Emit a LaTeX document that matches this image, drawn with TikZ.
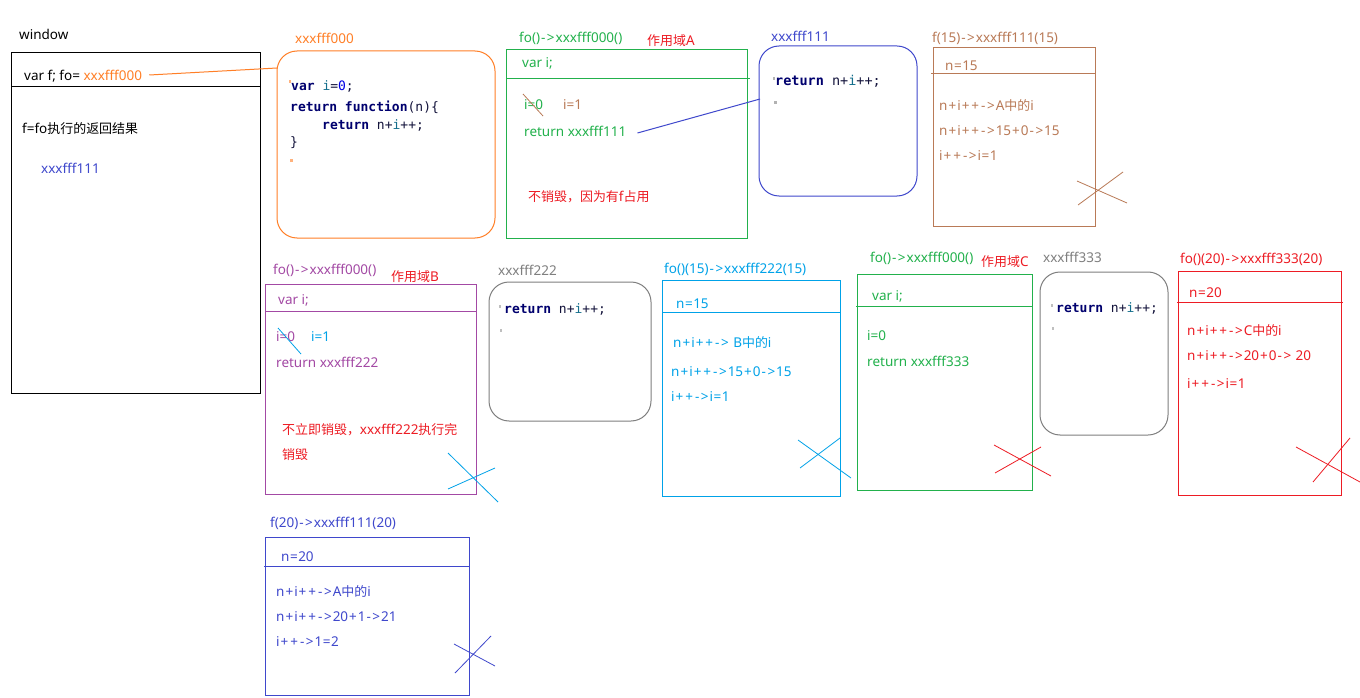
\documentclass[tikz,border=0pt]{standalone}
\usepackage{fontspec}
\setmainfont{Noto Sans}
\newfontfamily\cjk[Scale=0.96]{Noto Sans CJK SC}
\newfontfamily\codefont{DejaVu Sans Mono}
\usetikzlibrary{calc}

% MS Paint palette
\definecolor{porange}{RGB}{255,127,39}
\definecolor{pgreen}{RGB}{34,177,76}
\definecolor{pred}{RGB}{237,28,36}
\definecolor{pindigo}{RGB}{63,72,204}
\definecolor{pbrown}{RGB}{185,122,87}
\definecolor{ppurple}{RGB}{163,73,164}
\definecolor{pcyan}{RGB}{0,162,232}
\definecolor{pgray}{RGB}{127,127,127}
% code colouring
\definecolor{codekw}{RGB}{0,0,110}
\definecolor{codeid}{RGB}{20,110,140}
\definecolor{codenum}{RGB}{0,0,230}
\definecolor{codetx}{RGB}{20,20,60}

\newcommand{\kw}[1]{\textcolor{codekw}{\textbf{#1}}}
\newcommand{\idv}[1]{\textcolor{codeid}{#1}}
% loosely spaced operators for the trace lines
\newcommand{\pl}{\kern1pt+\kern1pt}
\newcommand{\ar}{\kern1pt-\kern1.5pt>\kern1pt}
\newcommand{\eq}{\kern0.5pt=\kern0.5pt}

\begin{document}
\begin{tikzpicture}[x=1pt,y=-1pt,
  lbl/.style={anchor=west,inner sep=0pt,font=\fontsize{13.5}{16}\selectfont},
  frame/.style={draw=#1,line width=1pt,anchor=north west,inner sep=0pt,outer sep=0pt},
  rframe/.style={frame=#1,rounded corners=20pt},
  divider/.style={draw=#1,line width=1pt},
  cross/.style={draw=#1,line width=0.8pt},
  code/.style={anchor=west,inner sep=0pt,text=codetx,font=\codefont\fontsize{13}{15}\selectfont},
  mark/.style={fill=#1}]
\useasboundingbox[fill=white] (0,0) rectangle (1360,698);

% ---- global scope: window ----
\node[lbl] (winlbl) at (19,34) {window};
\node[frame=black,minimum width=249pt,minimum height=340pt] (win) at (11,53) {};
\draw[divider=black] (11,87) -- (261,87);
\node[lbl] (tfo) at (24,76) {var f; fo= \textcolor{porange}{xxxfff000}};
\node[lbl] (tf) at (22,129) {f=fo{\cjk 执行的返回结果}};
\node[lbl,text=pindigo] (tf111) at (41,168) {xxxfff111};

% ---- function object xxxfff000 ----
\node[lbl,text=porange] (l000) at (295,38) {xxxfff000};
\node[rframe=porange,minimum width=218pt,minimum height=187pt] (r000) at (277,51) {};
\node[code] (c000a) at (291,86) {\kw{var} \idv{i}=\textcolor{codenum}{0};};
\node[code] (c000b) at (290,107) {\kw{return} \kw{function}(n)\{};
\node[code] (c000c) at (322,125) {\kw{return} n+\idv{i}++;};
\node[code] (c000d) at (290,143) {\}};
\fill[mark=porange!60] (289,80) rectangle (291,83);
\fill[mark=porange!60] (290,159) rectangle (293,162);
\coordinate (in000) at (277,68);
\draw[porange,line width=1pt] ($(tfo.east)+(7,-1)$) -- (in000);

% ---- scope A ----
\node[lbl,text=pgreen] (lA) at (519,38) {fo()\ar xxxfff000()};
\node[lbl,text=pred] (nA) at (647,41) {{\cjk 作用域}A};
\node[frame=pgreen,minimum width=241pt,minimum height=188pt] (bA) at (506,50) {};
\draw[divider=pgreen] (506,79) -- (750,79);
\node[lbl,text=pgreen] (vA) at (522,63) {var i;};
\node[lbl,text=pgreen] (iA0) at (524,105) {i=0};
\draw[pbrown,line width=0.8pt] (523,94) -- (543,116);
\node[lbl,text=pbrown] (iA1) at (563,105) {i=1};
\node[lbl,text=pgreen] (rA) at (524,131) {return xxxfff111};
\node[lbl,text=pred] (kA) at (528,197) {{\cjk 不销毁，因为有}f{\cjk 占用}};

% ---- function object xxxfff111 ----
\node[lbl,text=pindigo] (l111) at (771,36) {xxxfff111};
\node[rframe=pindigo,minimum width=158pt,minimum height=150pt] (r111) at (759,46) {};
\node[code,font=\codefont\fontsize{13.5}{15}\selectfont] (c111) at (775,81) {\kw{return} n+\idv{i}++;};
\fill[mark=pgray!60] (773,77) rectangle (775,80);
\fill[mark=pgray!60] (774,101) rectangle (777,104);
\coordinate (in111) at (760,99);
\draw[pindigo,line width=1pt] ($(rA.east)+(11,2)$) -- (in111);

% ---- call f(15) ----
\node[lbl,text=pbrown] (l15) at (932,38) {f(15)\ar xxxfff111(15)};
\node[frame=pbrown,minimum width=162pt,minimum height=178pt] (b15) at (933,48) {};
\draw[divider=pbrown] (931,74) -- (1095,74);
\node[lbl,text=pbrown] (n15) at (945,66) {n\eq 15};
\node[lbl,text=pbrown] (s15a) at (939,106) {n\pl i\pl\pl\ar A{\cjk 中的}i};
\node[lbl,text=pbrown] (s15b) at (939,131) {n\pl i\pl\pl\ar 15\pl 0\ar 15};
\node[lbl,text=pbrown] (s15c) at (939,156) {i\pl\pl\ar i\eq 1};
\draw[cross=pbrown] (1077,181) -- (1127,203);
\draw[cross=pbrown] (1078,205) -- (1123,172);

% ---- scope B ----
\node[lbl,text=ppurple] (lB) at (273,270) {fo()\ar xxxfff000()};
\node[lbl,text=pred] (nB) at (391,277) {{\cjk 作用域}B};
\node[frame=ppurple,minimum width=211pt,minimum height=210pt] (bB) at (265,284) {};
\draw[divider=ppurple] (265,311) -- (476,311);
\node[lbl,text=ppurple] (vB) at (278,300) {var i;};
\node[lbl,text=ppurple] (iB0) at (276,337) {i=0};
\draw[pcyan,line width=0.8pt] (278,328) -- (301,354);
\node[lbl,text=pcyan] (iB1) at (311,337) {i=1};
\node[lbl,text=ppurple] (rB) at (276,362) {return xxxfff222};
\node[lbl,text=pred] (kB1) at (282,430) {{\cjk 不立即销毁，}xxxfff222{\cjk 执行完}};
\node[lbl,text=pred] (kB2) at (282,455) {{\cjk 销毁}};
\draw[cross=pcyan] (448,453) -- (498,502);
\draw[cross=pcyan] (448,489) -- (495,468);

% ---- function object xxxfff222 ----
\node[lbl,text=pgray] (l222) at (498,270) {xxxfff222};
\node[rframe=pgray,minimum width=162pt,minimum height=139pt] (r222) at (489,282) {};
\node[code] (c222) at (504,309) {\kw{return} n+\idv{i}++;};
\fill[mark=pgray!50] (499,305) rectangle (501,308);
\fill[mark=pgray!50] (500,329) rectangle (502,332);

% ---- call fo()(15) ----
\node[lbl,text=pcyan] (l222c) at (664,269) {fo()(15)\ar xxxfff222(15)};
\node[frame=pcyan,minimum width=178pt,minimum height=216pt] (b222c) at (662,280) {};
\draw[divider=pcyan] (662,312) -- (840,312);
\node[lbl,text=pcyan] (n222) at (676,304) {n\eq 15};
\node[lbl,text=pcyan] (s222a) at (673,343) {n\pl i\pl\pl\ar\ B{\cjk 中的}i};
\node[lbl,text=pcyan] (s222b) at (671,372) {n\pl i\pl\pl\ar 15\pl 0\ar 15};
\node[lbl,text=pcyan] (s222c) at (671,397) {i\pl\pl\ar i\eq 1};
\draw[cross=pcyan] (798,440) -- (851,478);
\draw[cross=pcyan] (800,468) -- (840,438);

% ---- scope C ----
\node[lbl,text=pgreen] (lC) at (870,258) {fo()\ar xxxfff000()};
\node[lbl,text=pred] (nC) at (981,262) {{\cjk 作用域}C};
\node[frame=pgreen,minimum width=175pt,minimum height=216pt] (bC) at (857,274) {};
\draw[divider=pgreen] (856,306) -- (1032,306);
\node[lbl,text=pgreen] (vC) at (872,296) {var i;};
\node[lbl,text=pgreen] (iC0) at (867,336) {i=0};
\node[lbl,text=pgreen] (rC) at (867,361) {return xxxfff333};
\draw[cross=pred] (994,445) -- (1051,476);
\draw[cross=pred] (995,473) -- (1041,447);

% ---- function object xxxfff333 ----
\node[lbl,text=pgray] (l333) at (1043,257) {xxxfff333};
\node[rframe=pgray,minimum width=128pt,minimum height=163pt] (r333) at (1040,272) {};
\node[code] (c333) at (1056,308) {\kw{return} n+\idv{i}++;};
\fill[mark=pgray!50] (1051,304) rectangle (1053,307);
\fill[mark=pgray!50] (1052,327) rectangle (1054,330);

% ---- call fo()(20) ----
\node[lbl,text=pred] (l333c) at (1180,259) {fo()(20)\ar xxxfff333(20)};
\node[frame=pred,minimum width=163pt,minimum height=224pt] (b333c) at (1178,271) {};
\draw[divider=pred] (1177,302) -- (1343,302);
\node[lbl,text=pred] (n333) at (1189,293) {n\eq 20};
\node[lbl,text=pred] (s333a) at (1187,331) {n\pl i\pl\pl\ar C{\cjk 中的}i};
\node[lbl,text=pred] (s333b) at (1187,356) {n\pl i\pl\pl\ar 20\pl 0\ar\ 20};
\node[lbl,text=pred] (s333c) at (1187,384) {i\pl\pl\ar i\eq 1};
\draw[cross=pred] (1296,447) -- (1360,482);
\draw[cross=pred] (1313,482) -- (1350,438);

% ---- call f(20) ----
\node[lbl,text=pindigo] (l20) at (270,523) {f(20)\ar xxxfff111(20)};
\node[frame=pindigo,minimum width=204pt,minimum height=158pt] (b20) at (265,537) {};
\draw[divider=pindigo] (264,566) -- (469,566);
\node[lbl,text=pindigo] (n20) at (281,557) {n\eq 20};
\node[lbl,text=pindigo] (s20a) at (276,592) {n\pl i\pl\pl\ar A{\cjk 中的}i};
\node[lbl,text=pindigo] (s20b) at (276,617) {n\pl i\pl\pl\ar 20\pl 1\ar 21};
\node[lbl,text=pindigo] (s20c) at (276,642) {i\pl\pl\ar 1\eq 2};
\draw[cross=pindigo] (454,644) -- (495,666);
\draw[cross=pindigo] (455,673) -- (491,636);
\end{tikzpicture}
\end{document}
